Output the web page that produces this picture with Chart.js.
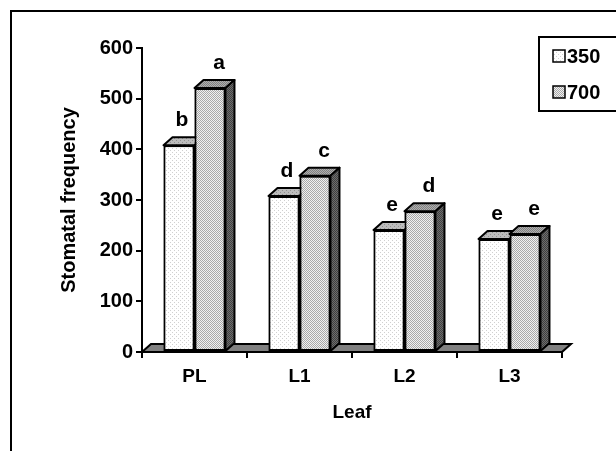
<!DOCTYPE html>
<html>
<head>
<meta charset="utf-8">
<script src="https://cdn.jsdelivr.net/npm/chart.js@4/dist/chart.umd.min.js"></script>
<style>
  html, body { margin: 0; padding: 0; background: #fff; overflow: hidden; }
  #frame { position: absolute; left: 10px; top: 10px; width: 700px; height: 600px; border: 2px solid #000; box-sizing: border-box; }
  #wrap { position: absolute; left: 0; top: 0; width: 616px; height: 451px; }
</style>
</head>
<body>
<div id="frame"></div>
<div id="wrap"><canvas id="chart" width="616" height="451"></canvas></div>
<script>
const leaves = ["PL", "L1", "L2", "L3"];
const freq350 = [408, 308, 241, 223];
const freq700 = [521, 348, 278, 233];
const letters350 = ["b", "d", "e", "e"];
const letters700 = ["a", "c", "d", "e"];
const yTicks = [0, 100, 200, 300, 400, 500, 600];

const FONT = "'Liberation Sans', Arial, sans-serif";
const DX = 9, DY = 8;

// small dither patterns, like the old excel fills
function dither(base, dot, cells) {
  const c = document.createElement("canvas");
  c.width = 4; c.height = 4;
  const g = c.getContext("2d");
  g.fillStyle = base;
  g.fillRect(0, 0, 4, 4);
  g.fillStyle = dot;
  cells.forEach(([x, y]) => g.fillRect(x, y, 1, 1));
  return g.createPattern(c, "repeat");
}
const sparse = [[0, 0], [2, 2]];
const dense = [[0, 0], [2, 0], [1, 1], [3, 1], [0, 2], [2, 2], [1, 3], [3, 3]];
const fill350 = dither("#ffffff", "#d0d0d0", sparse);
const fill700 = dither("#f0f0f0", "#a8a8a8", dense);
const top350 = dither("#bcbcbc", "#909090", sparse);
const top700 = dither("#b0b0b0", "#808080", dense);
const side = dither("#6e6e6e", "#404040", dense);

function face(ctx, pts, fill) {
  ctx.beginPath();
  ctx.moveTo(pts[0][0], pts[0][1]);
  for (let i = 1; i < pts.length; i++) ctx.lineTo(pts[i][0], pts[i][1]);
  ctx.closePath();
  ctx.fillStyle = fill;
  ctx.fill();
  ctx.stroke();
}

const bars3d = {
  id: "bars3d",
  beforeDatasetsDraw(chart) {
    const ctx = chart.ctx;
    const { left, right } = chart.chartArea;
    const y0 = chart.scales.y.getPixelForValue(0);
    ctx.save();
    ctx.strokeStyle = "#000";
    ctx.lineWidth = 2;
    face(ctx, [[left, y0], [left + DX, y0 - DY], [right + DX, y0 - DY], [right, y0]], "#808080");
    ctx.restore();
  },
  afterDatasetsDraw(chart) {
    const ctx = chart.ctx;
    const tops = [top350, top700];
    const letters = [letters350, letters700];
    const shift = [3, 9];
    leaves.forEach((_, i) => {
      [0, 1].forEach((d) => {
        const bar = chart.getDatasetMeta(d).data[i];
        bar.draw(ctx);
        const { x, y, base, width } = bar.getProps(["x", "y", "base", "width"], true);
        const l = x - width / 2, r = x + width / 2;
        ctx.save();
        ctx.strokeStyle = "#000";
        ctx.lineWidth = 2;
        ctx.lineJoin = "round";
        face(ctx, [[l, y], [l + DX, y - DY], [r + DX, y - DY], [r, y]], tops[d]);
        face(ctx, [[r, y], [r + DX, y - DY], [r + DX, base - DY], [r, base]], side);
        ctx.fillStyle = "#000";
        ctx.font = "bold 21px " + FONT;
        ctx.textAlign = "center";
        ctx.textBaseline = "alphabetic";
        ctx.fillText(letters[d][i], x + shift[d], y - 19);
        ctx.restore();
      });
    });
  },
  afterDraw(chart) {
    const ctx = chart.ctx;
    ctx.save();
    ctx.strokeStyle = "#000";
    ctx.lineWidth = 2;
    ctx.strokeRect(539, 37, 200, 74);
    const fills = [fill350, fill700];
    chart.data.datasets.forEach((ds, k) => {
      const yy = 56 + k * 36;
      ctx.lineWidth = 1.5;
      ctx.fillStyle = fills[k];
      ctx.fillRect(553, yy - 6, 12, 12);
      ctx.strokeRect(553, yy - 6, 12, 12);
      ctx.fillStyle = "#000";
      ctx.font = "bold 20px " + FONT;
      ctx.textAlign = "left";
      ctx.textBaseline = "middle";
      ctx.fillText(ds.label, 567, yy + 1);
    });
    ctx.restore();
  },
};

new Chart(document.getElementById("chart"), {
  type: "bar",
  data: {
    labels: leaves,
    datasets: [
      { label: "350", data: freq350, backgroundColor: fill350, borderColor: "#000", borderWidth: 2, borderSkipped: false },
      { label: "700", data: freq700, backgroundColor: fill700, borderColor: "#000", borderWidth: 2, borderSkipped: false },
    ],
  },
  options: {
    responsive: false,
    devicePixelRatio: 1,
    animation: false,
    layout: { padding: { top: 48, right: 54, left: 0, bottom: 0 } },
    plugins: { legend: { display: false }, tooltip: { enabled: false } },
    datasets: { bar: { categoryPercentage: 0.59, barPercentage: 1.0 } },
    scales: {
      x: {
        afterFit(scale) { scale.height = 99; },
        grid: { display: true, drawOnChartArea: false, drawTicks: true, tickLength: 6, color: "#000", lineWidth: 2 },
        border: { display: true, color: "#000", width: 2 },
        ticks: { color: "#000", font: { family: FONT, size: 19, weight: "bold" }, padding: 7 },
        title: { display: true, text: "Leaf", color: "#000", font: { family: FONT, size: 19, weight: "bold" }, padding: { top: 0, bottom: 27 } },
      },
      y: {
        min: 0,
        max: 600,
        afterFit(scale) { scale.width = 142; },
        afterBuildTicks(scale) { scale.ticks = yTicks.map((v) => ({ value: v })); },
        grid: { display: true, drawOnChartArea: false, drawTicks: true, tickLength: 6, color: "#000", lineWidth: 2 },
        border: { display: true, color: "#000", width: 2 },
        ticks: { color: "#000", font: { family: FONT, size: 20, weight: "bold" }, padding: 3 },
        title: { display: true, text: "Stomatal frequency", color: "#000", font: { family: FONT, size: 20, weight: "bold" }, padding: { top: 57, bottom: 0 } },
      },
    },
  },
  plugins: [bars3d],
});
</script>
</body>
</html>
